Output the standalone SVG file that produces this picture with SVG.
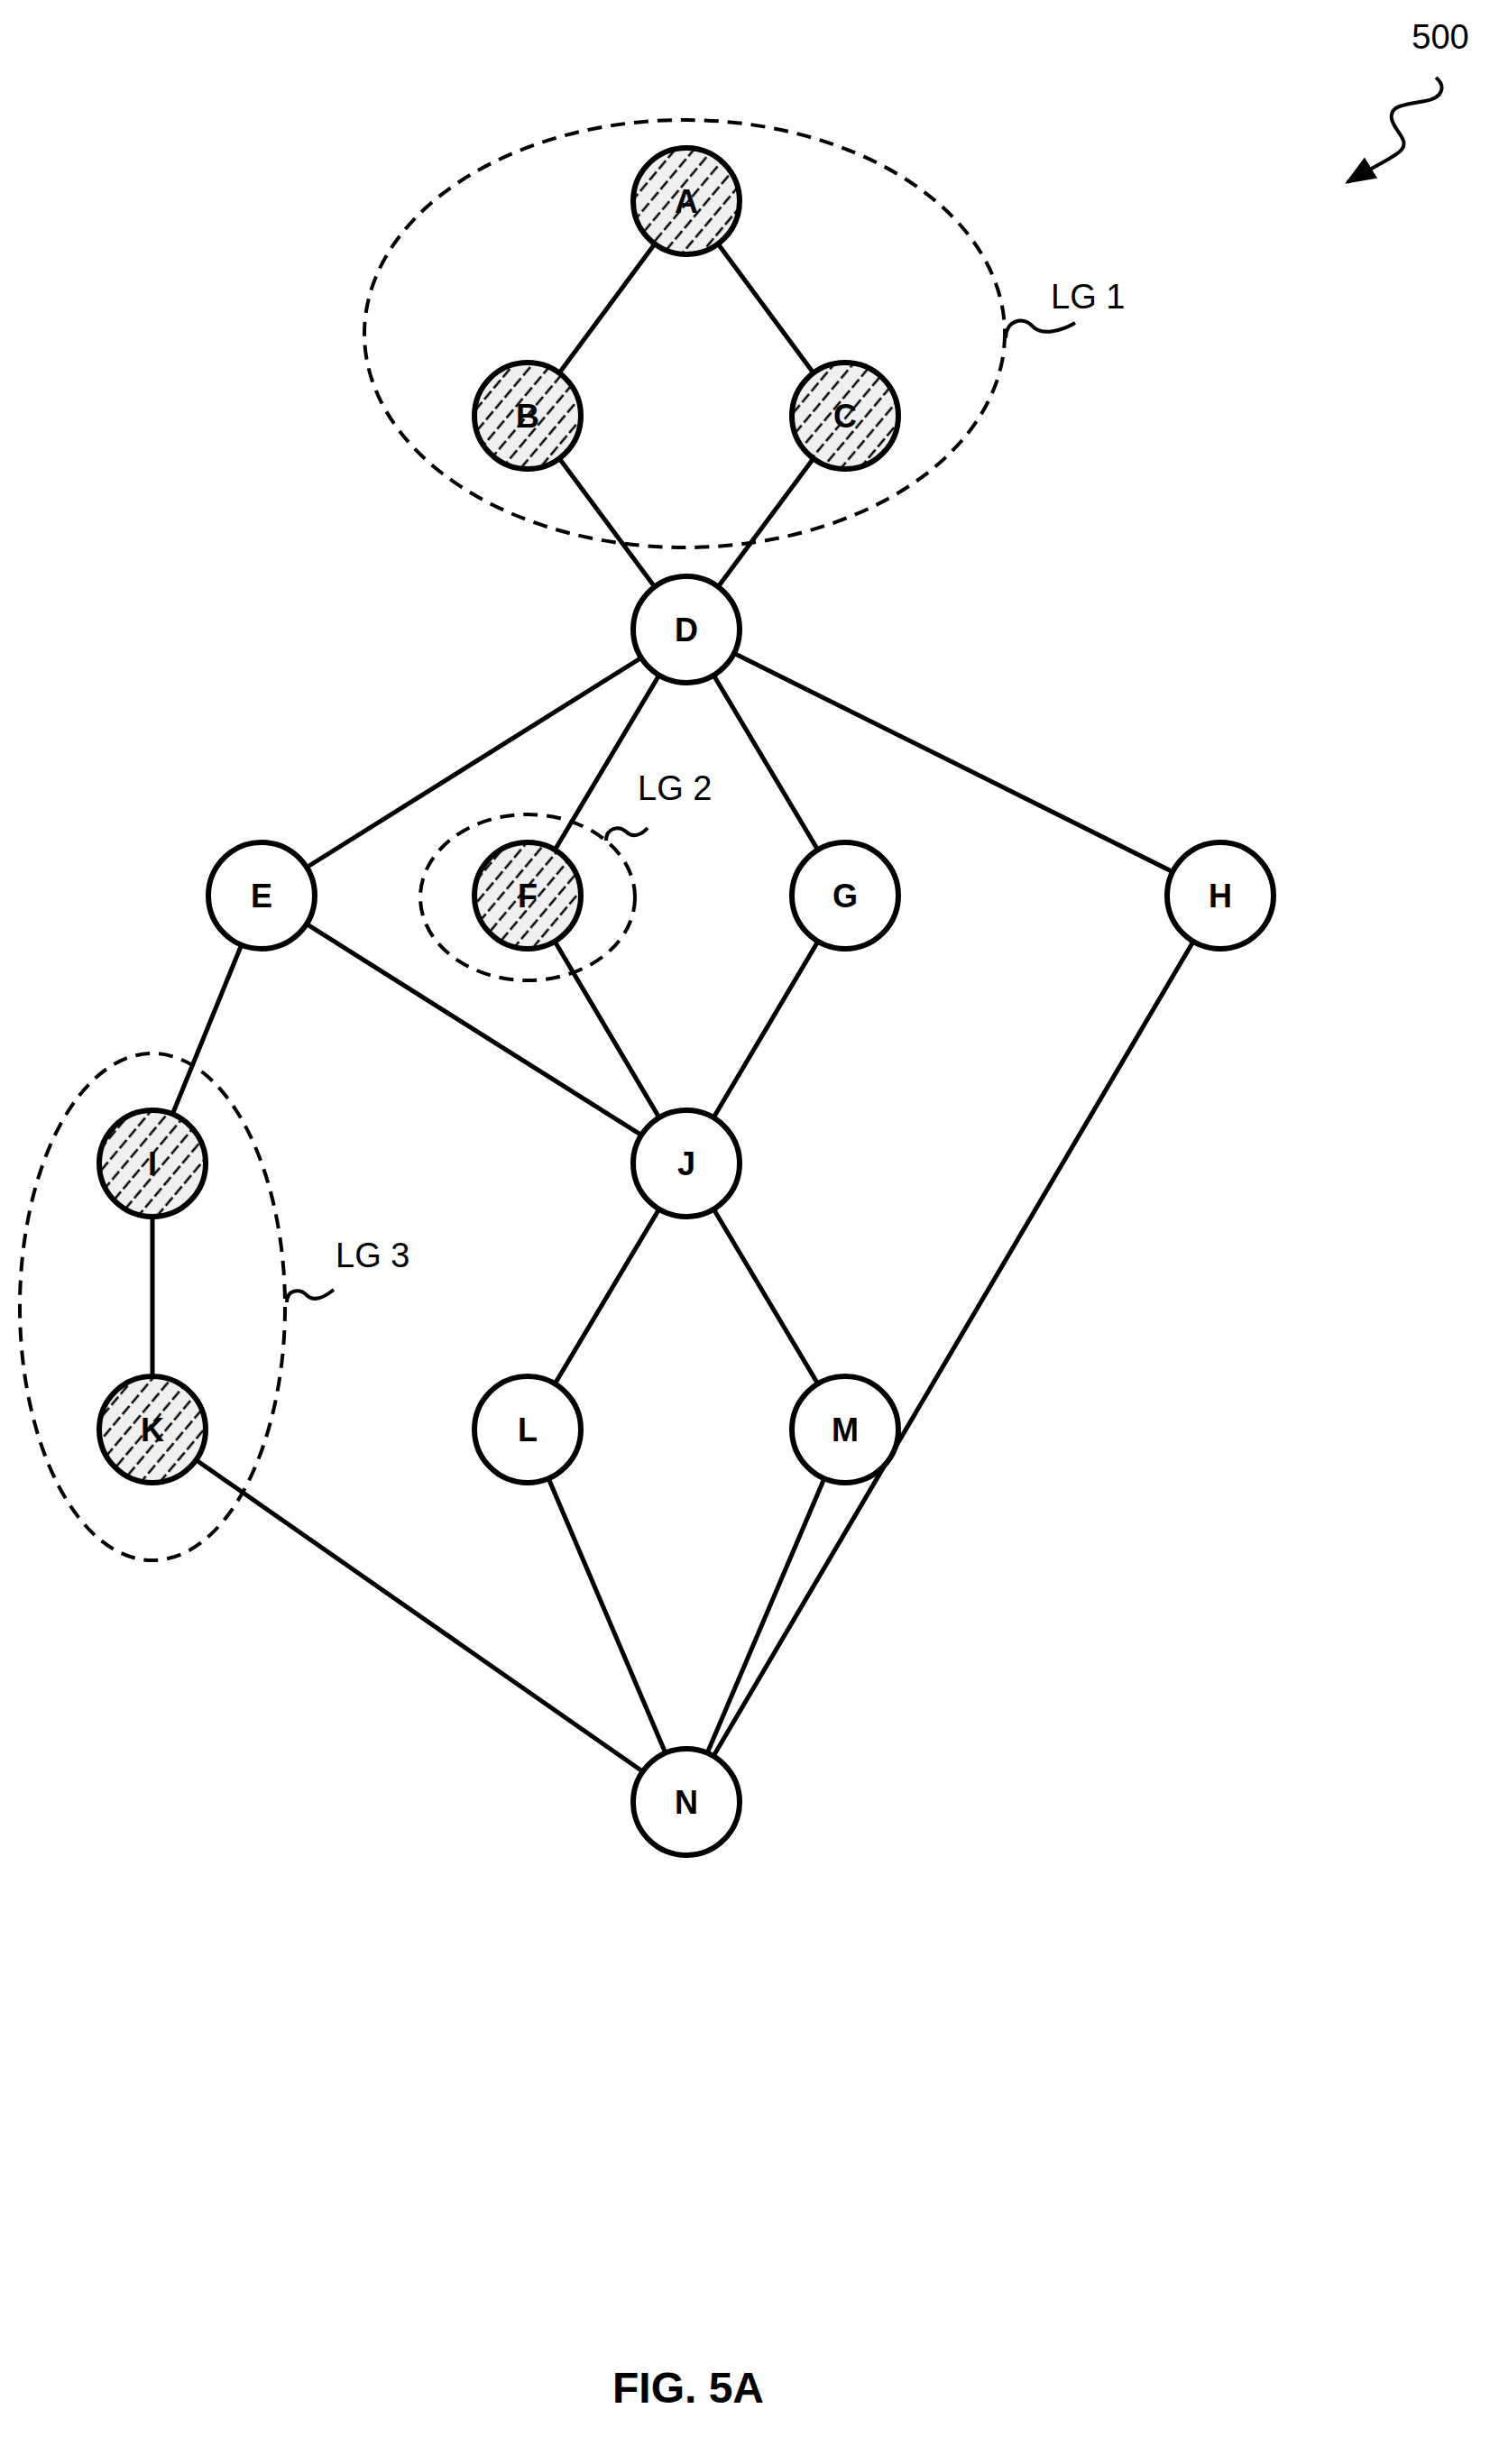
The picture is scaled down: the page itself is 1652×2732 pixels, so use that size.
<svg xmlns="http://www.w3.org/2000/svg" width="1652" height="2732" viewBox="0 0 1652 2732">
<style>
.e{stroke:#000;stroke-width:5;fill:none}
.n{stroke:#000;stroke-width:6;fill:#fff}
.h{stroke:#000;stroke-width:6;fill:url(#hatch)}
.t{font-family:"Liberation Sans",Arial,sans-serif;font-weight:bold;font-size:36px;text-anchor:middle}
.g{stroke:#000;stroke-width:4;fill:none;stroke-dasharray:16 10}
.l{font-family:"Liberation Sans",Arial,sans-serif;font-size:38px}
.s{stroke:#000;stroke-width:4;fill:none}
</style>
<defs>
<pattern id="hatch" patternUnits="userSpaceOnUse" width="16" height="16" patternTransform="rotate(40)">
<rect width="16" height="16" fill="#f0f0f0"/>
<line x1="8" y1="0" x2="8" y2="16" stroke="#000" stroke-width="2.5" stroke-dasharray="10 4 2 4"/>
</pattern>
<marker id="arr" viewBox="0 0 10 10" refX="9" refY="5" markerWidth="34" markerHeight="34" orient="auto" markerUnits="userSpaceOnUse"><path d="M0,1L10,5L0,9z"/></marker>
</defs>
<g id="connectors">
<line class="e" x1="761" y1="223" x2="585" y2="461"/>
<line class="e" x1="761" y1="223" x2="937" y2="461"/>
<line class="e" x1="585" y1="461" x2="761" y2="698"/>
<line class="e" x1="937" y1="461" x2="761" y2="698"/>
<line class="e" x1="761" y1="698" x2="290" y2="993"/>
<line class="e" x1="761" y1="698" x2="585" y2="993"/>
<line class="e" x1="761" y1="698" x2="937" y2="993"/>
<line class="e" x1="761" y1="698" x2="1353" y2="993"/>
<line class="e" x1="290" y1="993" x2="169" y2="1290"/>
<line class="e" x1="290" y1="993" x2="761" y2="1290"/>
<line class="e" x1="585" y1="993" x2="761" y2="1290"/>
<line class="e" x1="937" y1="993" x2="761" y2="1290"/>
<line class="e" x1="1353" y1="993" x2="761" y2="1998"/>
<line class="e" x1="169" y1="1290" x2="169" y2="1585"/>
<line class="e" x1="761" y1="1290" x2="585" y2="1585"/>
<line class="e" x1="761" y1="1290" x2="937" y2="1585"/>
<line class="e" x1="169" y1="1585" x2="761" y2="1998"/>
<line class="e" x1="585" y1="1585" x2="761" y2="1998"/>
<line class="e" x1="937" y1="1585" x2="761" y2="1998"/>
</g>
<g id="groups">
<ellipse class="g" cx="759" cy="370" rx="355" ry="237"/>
<path class="s" d="M1115,375 C1115,355 1135,350 1145,362 C1155,372 1175,368 1192,358"/>
<text class="l" x="1165" y="342">LG 1</text>
<ellipse class="g" cx="585" cy="995" rx="119" ry="92"/>
<path class="s" d="M672,932 C672,918 686,915 694,922 C702,930 712,925 718,918"/>
<text class="l" x="707" y="887">LG 2</text>
<ellipse class="g" cx="169" cy="1449" rx="147" ry="281"/>
<path class="s" d="M318,1444 C318,1430 332,1428 340,1436 C348,1444 360,1438 370,1430"/>
<text class="l" x="372" y="1405">LG 3</text>
</g>
<g id="A"><circle class="h" cx="761" cy="223" r="59"/><text class="t" x="761" y="236">A</text></g>
<g id="B"><circle class="h" cx="585" cy="461" r="59"/><text class="t" x="585" y="474">B</text></g>
<g id="C"><circle class="h" cx="937" cy="461" r="59"/><text class="t" x="937" y="474">C</text></g>
<g id="D"><circle class="n" cx="761" cy="698" r="59"/><text class="t" x="761" y="711">D</text></g>
<g id="E"><circle class="n" cx="290" cy="993" r="59"/><text class="t" x="290" y="1006">E</text></g>
<g id="F"><circle class="h" cx="585" cy="993" r="59"/><text class="t" x="585" y="1006">F</text></g>
<g id="G"><circle class="n" cx="937" cy="993" r="59"/><text class="t" x="937" y="1006">G</text></g>
<g id="H"><circle class="n" cx="1353" cy="993" r="59"/><text class="t" x="1353" y="1006">H</text></g>
<g id="I"><circle class="h" cx="169" cy="1290" r="59"/><text class="t" x="169" y="1303">I</text></g>
<g id="J"><circle class="n" cx="761" cy="1290" r="59"/><text class="t" x="761" y="1303">J</text></g>
<g id="K"><circle class="h" cx="169" cy="1585" r="59"/><text class="t" x="169" y="1598">K</text></g>
<g id="L"><circle class="n" cx="585" cy="1585" r="59"/><text class="t" x="585" y="1598">L</text></g>
<g id="M"><circle class="n" cx="937" cy="1585" r="59"/><text class="t" x="937" y="1598">M</text></g>
<g id="N"><circle class="n" cx="761" cy="1998" r="59"/><text class="t" x="761" y="2011">N</text></g>
<g id="ref500">
<text class="l" x="1597" y="54" text-anchor="middle" font-size="44">500</text>
<path class="s" d="M1592,86 C1602,94 1602,108 1580,112 C1560,116 1540,116 1543,132 C1546,146 1565,156 1552,168 C1540,178 1520,186 1494,202" marker-end="url(#arr)"/>
</g>
<text x="763" y="2664" font-family="Liberation Sans,Arial,sans-serif" font-weight="bold" font-size="48" text-anchor="middle">FIG. 5A</text>
</svg>
